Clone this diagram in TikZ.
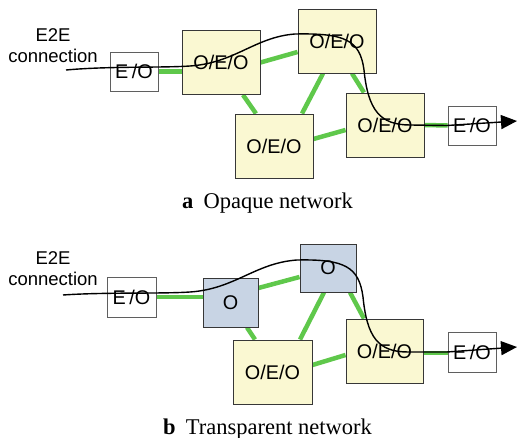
\documentclass[tikz,border=0pt]{standalone}
\usepackage{fontspec}
\setmainfont{Liberation Serif}
\setsansfont{Liberation Sans}
\usetikzlibrary{backgrounds,arrows.meta}
\definecolor{linkgreen}{RGB}{95,200,75}
\definecolor{oeofill}{RGB}{250,248,210}
\definecolor{ofill}{RGB}{200,212,228}
\definecolor{boxline}{RGB}{55,55,55}
\newcommand{\eotext}{E\hspace{3.5pt}/O}
\begin{document}
\begin{tikzpicture}[x=1pt,y=-1pt,
  every node/.style={inner sep=0pt},
  boxtext/.style={font=\sffamily\fontsize{19.8}{22}\selectfont},
  oeo/.style={boxtext,draw=boxline,line width=0.9pt,fill=oeofill,minimum width=78pt,minimum height=64pt},
  obox/.style={boxtext,draw=boxline,line width=0.9pt,fill=ofill,minimum width=55pt,minimum height=49pt},
  eo/.style={boxtext,draw=boxline!80,line width=0.8pt,fill=white,minimum width=48pt,minimum height=39pt},
  link/.style={linkgreen,line width=4.5pt},
  e2e/.style={black,line width=1.4pt,-{Triangle[length=16pt,width=14pt]}},
  lbl/.style={align=center,font=\sffamily\fontsize{18.5}{21}\selectfont},
  caption/.style={anchor=base west,font=\fontsize{22.5}{26}\selectfont}
]
\useasboundingbox (0,0) rectangle (517,438);

% ---------- (a) opaque network ----------
\node[lbl] (e2eA) at (53,45.5) {E2E\\connection};
\node[eo]  (eoA1) at (134,71.5) {\eotext};
\node[oeo] (nA)   at (221,62.5) {O/E/O};
\node[oeo] (nB)   at (337,41)   {O/E/O};
\node[oeo] (nC)   at (274,146)  {O/E/O};
\node[oeo] (nD)   at (385,125)  {O/E/O};
\node[eo]  (eoA2) at (472,125.5) {\eotext};

\begin{scope}[on background layer]
  \draw[link] (eoA1.east) -- (eoA1.east -| nA.west);
  \draw[link] (nA.east) -- ([yshift=-11pt]nB.west);
  \draw[link] ([xshift=22pt]nA.south) -- ([xshift=-18pt]nC.north);
  \draw[link] ([xshift=-14pt]nB.south) -- ([xshift=28pt]nC.north);
  \draw[link] ([xshift=15pt]nB.south) -- ([xshift=-21pt]nD.north);
  \draw[link] ([yshift=7pt]nC.east) -- ([yshift=-5pt]nD.west);
  \draw[link] (nD.east) -- (eoA2.west);
\end{scope}

\coordinate (inA) at (66,70);
\coordinate (outA) at (517,121);
\draw[e2e] (inA) .. controls (110,66) and (160,68) .. (190,66)
  .. controls (235,63) and (255,37) .. (295,34)
  .. controls (345,33) and (360,40) .. (364,70)
  .. controls (368,110) and (380,125) .. (410,125)
  -- (447,125.5) -- (outA);

\node[caption] (capA) at (182,209) {\textbf{a}\hspace{0.45em}Opaque network};

% ---------- (b) transparent network ----------
\node[lbl] (e2eB) at (53,268.5) {E2E\\connection};
\node[eo,minimum width=49pt,minimum height=40pt] (eoB1) at (131.5,297) {\eotext};
\node[obox] (oA) at (230.5,302.5) {O};
\node[obox,minimum width=56pt,minimum height=48pt] (oB) at (328,268) {O};
\node[oeo,minimum width=79pt] (mC) at (272.5,372) {O/E/O};
\node[oeo,minimum width=77pt] (mD) at (384.5,351) {O/E/O};
\node[eo,minimum height=40pt] (eoB2) at (472,352) {\eotext};

\begin{scope}[on background layer]
  \draw[link] (eoB1.east) -- (eoB1.east -| oA.west);
  \draw[link] ([yshift=14.5pt]oA.east) -- ([yshift=-9pt]oB.west);
  \draw[link] ([xshift=16.5pt]oA.south) -- ([xshift=-17.5pt]mC.north);
  \draw[link] ([xshift=-4pt]oB.south) -- ([xshift=27.5pt]mC.north);
  \draw[link] ([xshift=22pt]oB.south) -- ([xshift=-20.5pt]mD.north);
  \draw[link] ([yshift=7pt]mC.east) -- ([yshift=-4pt]mD.west);
  \draw[link] ([yshift=-2pt]mD.east) -- ([yshift=-1pt]eoB2.west);
\end{scope}

\coordinate (inB) at (63,295);
\coordinate (outB) at (517,347);
\draw[e2e] (inB) .. controls (107,292) and (160,294) .. (190,292)
  .. controls (235,289) and (255,263) .. (297,260)
  .. controls (345,259) and (359,267) .. (363,297)
  .. controls (367,337) and (378,352) .. (408,352)
  -- (447,352) -- (outB);

\node[caption] (capB) at (163,434) {\textbf{b}\hspace{0.45em}Transparent network};
\end{tikzpicture}
\end{document}
